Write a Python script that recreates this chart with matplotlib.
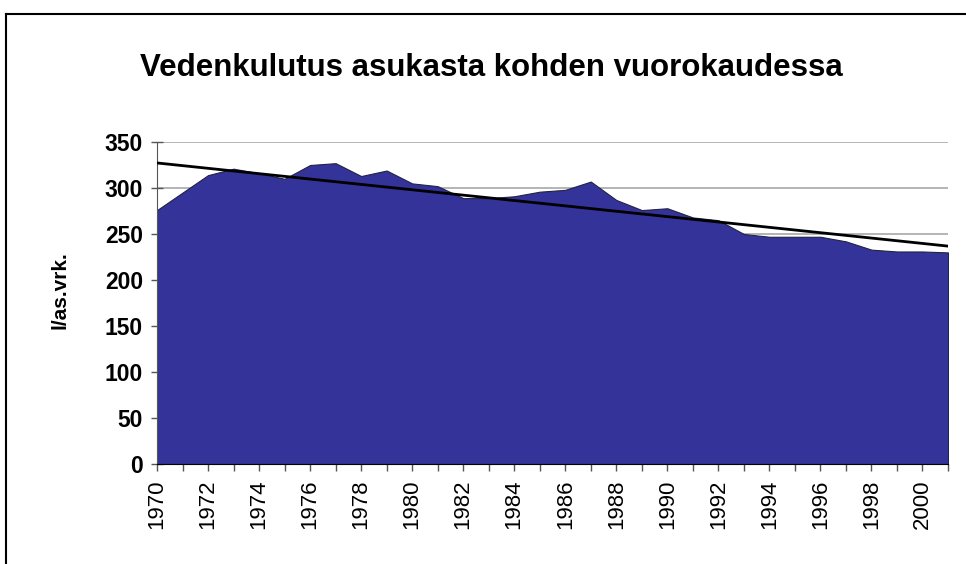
import numpy as np
import matplotlib
matplotlib.use("Agg")
import matplotlib.pyplot as plt
from matplotlib.lines import Line2D

years = np.arange(1970, 2002)
litres = [276, 295, 314, 321, 316, 310, 325, 327, 313, 319, 305, 302,
          289, 289, 291, 296, 298, 307, 287, 276, 278, 268, 265, 250,
          247, 247, 247, 242, 233, 231, 231, 230]
title = "Vedenkulutus asukasta kohden vuorokaudessa"
ylabel = "l/as.vrk."
yticks = [0, 50, 100, 150, 200, 250, 300, 350]
xticklabels = [str(y) for y in range(1970, 2001, 2)]

plt.rcParams["font.family"] = ["Liberation Sans", "DejaVu Sans"]

fig = plt.figure(figsize=(9.66, 5.64), dpi=100)
ax = fig.add_axes([157 / 966, 1 - 464 / 564, (948 - 157) / 966, (464 - 142) / 564])

# outer chart frame (only left and top edges visible in the crop)
fig.add_artist(Line2D([6 / 966, 6 / 966], [0, 1 - 14 / 564], transform=fig.transFigure,
                      color="black", lw=1.5))
fig.add_artist(Line2D([6 / 966, 1], [1 - 14 / 564, 1 - 14 / 564], transform=fig.transFigure,
                      color="black", lw=1.5))

ax.set_axisbelow(True)
ax.yaxis.grid(True, color="#a8a8a8", lw=1.2)
ax.fill_between(years, litres, 0, color="#333399", edgecolor="#222244", lw=0.8, zorder=2)

# linear trendline
k, b = np.polyfit(years, litres, 1)
ax.plot(years, k * years + b, color="black", lw=2, zorder=3)

ax.set_xlim(1970, 2001)
ax.set_ylim(0, 350)
ax.set_yticks(yticks)
ax.set_yticklabels([str(v) for v in yticks], fontweight="bold", fontsize=16.5)
ax.set_xticks(np.arange(1970, 2001, 2))
ax.set_xticks(np.arange(1970, 2002, 1), minor=True)
ax.set_xticklabels(xticklabels, rotation=90, fontsize=16)
ax.tick_params(axis="y", direction="inout", length=8, width=1, color="#555555", pad=6)
ax.tick_params(axis="x", which="both", direction="out", length=5, width=1, color="#555555", pad=6)

for s in ["top", "right"]:
    ax.spines[s].set_visible(False)
ax.spines["left"].set_color("#555555")
ax.spines["bottom"].set_color("black")

ax.set_ylabel(ylabel, fontweight="bold", fontsize=15)
ax.yaxis.set_label_coords(-0.11, 0.54)
fig.text(491 / 966, 1 - 68 / 564, title, ha="center", va="center",
         fontsize=22.5, fontweight="bold")

fig.savefig("out.png", dpi=100)
